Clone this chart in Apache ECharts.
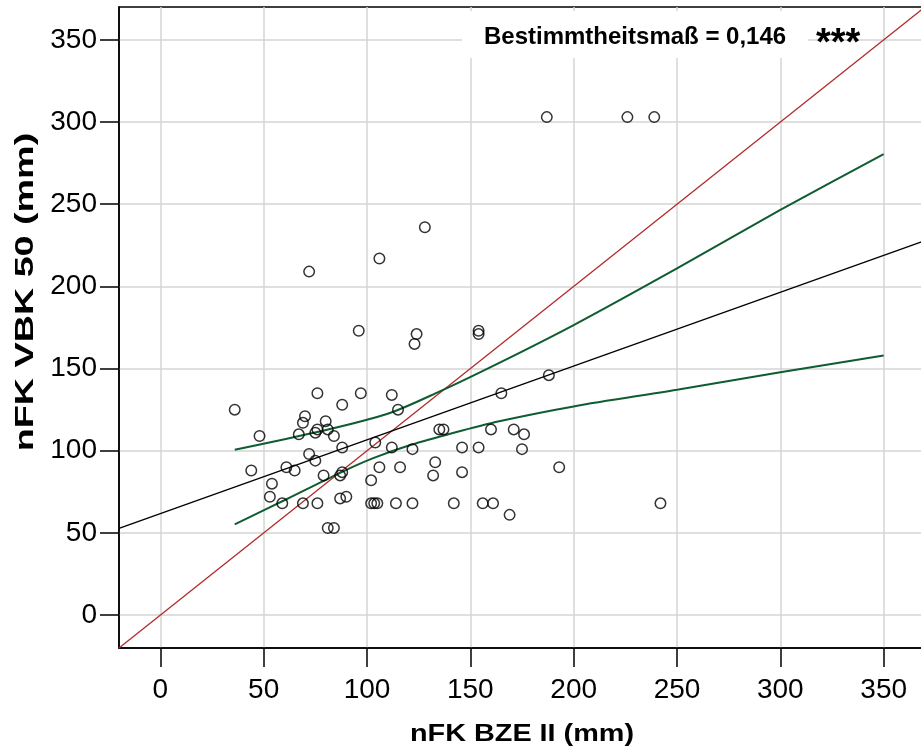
<!DOCTYPE html>
<html>
<head>
<meta charset="utf-8">
<script src="https://cdn.jsdelivr.net/npm/echarts@6/dist/echarts.min.js"></script>
<style>
html,body{margin:0;padding:0;background:#fff;overflow:hidden;}
#chart{width:930px;height:750px;}
</style>
</head>
<body>
<div id="chart"></div>
<script>
// Scatter data: nFK BZE II (x) vs nFK VBK 50 (y), in mm
const nfkBZE = [36,48,44,54,53,59,61,65,67,69,70,69,72,75,75,76,76,76,79,80,81,84,88,88,87,88,87,90,81,84,
  96,97,104,102,106,102,103.5,105,112,115,112,116,114,122,122,123,124,133,132,135,137,142,146,146,154,154,154,156,161,160,
  165,169,171,188,176,175,193,242,72,106,128,187,226,239];
const nfkVBK = [125,109,88,80,72,68,90,88,110,117,121,68,98,94,111,113,135,68,85,118,113,109,128,102,85,87,71,72,53,53,
  173,135,105,82,90,68,68,68,134,125,102,90,68,101,68,165,171,93,85,113,113,68,102,87,173,171,102,68,68,113,
  135,61,113,146,110,101,90,68,209,217,236,303,303,303];

// Reference lines
const identityX = [-20, 370];
const identityY = [-20, 370];
const fitX = [-20, 370];
const fitY = [52.8, 227.8];
// Confidence band
const upperX = [36, 77, 110, 135, 164, 200, 250, 300, 350];
const upperY = [100.6, 111.7, 122.5, 136, 153.5, 176.5, 211, 246.5, 280.5];
const lowerX = [36, 61, 87, 103, 121, 142, 164, 200, 250, 300, 350];
const lowerY = [55.2, 70.5, 86.6, 95.5, 103.5, 111, 118, 127, 137.1, 147.8, 158];

const xTicks = [0, 50, 100, 150, 200, 250, 300, 350];
const yTicks = [0, 50, 100, 150, 200, 250, 300, 350];

const xTitle = 'nFK BZE II (mm)';
const yTitle = 'nFK VBK 50 (mm)';
const r2Text = 'Bestimmtheitsmaß = 0,146';
const sigText = '***';

const zip = (a, b) => a.map((v, i) => [v, b[i]]);
const FONT = 'Liberation Sans, Arial, sans-serif';

const chart = echarts.init(document.getElementById('chart'), null, {renderer: 'canvas'});

function axisCommon(ticks) {
  return {
    type: 'value', min: -20, max: 370, minInterval: 50, maxInterval: 50,
    axisLine: {show: true, onZero: false, lineStyle: {color: '#000', width: 1.5}},
    axisTick: {show: true, length: 19, customValues: ticks, lineStyle: {color: '#000', width: 1.5}},
    axisLabel: {customValues: ticks, fontSize: 28, color: '#000', fontFamily: FONT, margin: 24},
    splitLine: {show: true, lineStyle: {color: '#d4d4d4', width: 1.5}}
  };
}

const xAx = axisCommon(xTicks);
xAx.axisLabel.margin = 28;
const yAx = axisCommon(yTicks);
yAx.axisLabel.margin = 22;

chart.setOption({
  animation: false,
  backgroundColor: '#fff',
  grid: {left: 119, right: 5, top: 7, bottom: 102, show: true, borderColor: '#000', borderWidth: 1.5,
         containLabel: false, outerBoundsMode: 'none'},
  xAxis: xAx,
  yAxis: yAx,
  series: [
    {type: 'line', data: zip(identityX, identityY), symbol: 'none',
     lineStyle: {color: '#b22a2a', width: 1.3}, z: 3},
    {type: 'line', data: zip(fitX, fitY), symbol: 'none', lineStyle: {color: '#000', width: 1.3}, z: 3},
    {type: 'line', data: zip(upperX, upperY), symbol: 'none', smooth: 0.3, lineStyle: {color: '#0f5c30', width: 2}, z: 3},
    {type: 'line', data: zip(lowerX, lowerY), symbol: 'none', smooth: 0.3, lineStyle: {color: '#0f5c30', width: 2}, z: 3},
    {type: 'scatter', data: zip(nfkBZE, nfkVBK), symbol: 'circle', symbolSize: 10.5,
     itemStyle: {color: 'rgba(0,0,0,0)', borderColor: '#000', borderWidth: 1.5}, z: 4}
  ],
  graphic: [
    {type: 'rect', z: 50, shape: {x: 462, y: 11, width: 346, height: 47}, style: {fill: '#fff'}},
    {type: 'text', z: 51, x: 484, y: 37, style: {text: r2Text, fontSize: 24, fontWeight: 'bold', fill: '#000', fontFamily: FONT, textVerticalAlign: 'middle'}},
    {type: 'text', z: 51, x: 816, y: 26, style: {text: sigText, fontSize: 38, fontWeight: 'bold', fill: '#000', fontFamily: FONT, textVerticalAlign: 'alphabetic'}},
    {type: 'text', z: 51, x: 522, y: 734, scaleX: 1.2, style: {text: xTitle, fontSize: 24, fontWeight: 'bold', fill: '#000', fontFamily: FONT, textAlign: 'center', textVerticalAlign: 'middle'}},
    {type: 'text', z: 51, x: 26, y: 292, rotation: Math.PI / 2, scaleX: 1.45, style: {text: yTitle, fontSize: 26, fontWeight: 'bold', fill: '#000', fontFamily: FONT, textAlign: 'center', textVerticalAlign: 'middle'}}
  ]
});
</script>
</body>
</html>
